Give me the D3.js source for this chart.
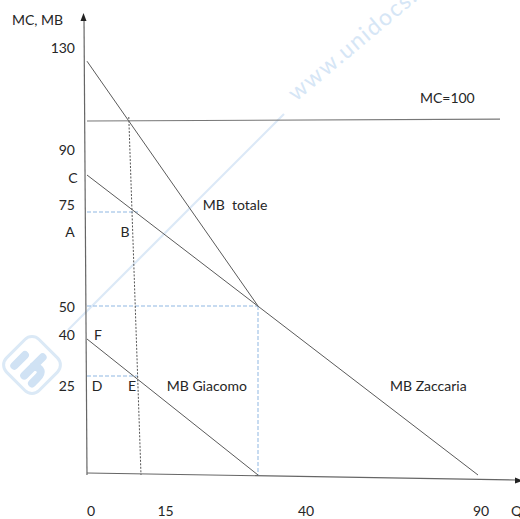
<!DOCTYPE html>
<html>
<head>
<meta charset="utf-8">
<script src="https://cdn.jsdelivr.net/npm/d3@7"></script>
<style>
  html, body { margin: 0; padding: 0; background: #fff; }
  svg { display: block; }
  text { font-family: Lato, "Open Sans", sans-serif; font-size: 14px; fill: #262626; }
</style>
</head>
<body>
<svg id="chart" width="520" height="519"></svg>
<script>
// ---------- data ----------
const qTicks = [0, 15, 40, 90];             // x tick labels (Q)
const vTicks = [130, 90, 75, 50, 40, 25];   // y tick labels (MC, MB)
const mbTotale   = [[0, 126], [40, 50]];
const mbZaccaria = [[0, 90], [90, 0]];
const mbGiacomo  = [[0, 40], [40, 0]];
const mcValue = 100;
const mcSpan = [0, 95];
const optimumQ = 15;     // Q where MB totale = MC
const kinkQ = 40;        // Q where MB Giacomo reaches 0
const kinkV = 50;
const shareZ = 75;       // MB Zaccaria at optimum
const shareG = 25;       // MB Giacomo at optimum
const pointNames = ["A", "B", "C", "D", "E", "F"];
const pointQ = [0, 15, 0, 0, 15, 0];
const pointV = [75, 75, 90, 25, 25, 40];
const curveNames = ["MB  totale", "MB Zaccaria", "MB Giacomo", "MC=100"];
const curveAnchorQ = [28.5, 70, 21, 76.8];
const curveAnchorV = [77.8, 22.5, 22.5, 110];

// ---------- scales (hand-drawn, not to scale) ----------
const x = d3.scaleLinear().domain([0, 15, 40, 90]).range([87, 138, 258, 478]);
const y = d3.scaleLinear().domain([0, 25, 40, 50, 75, 90, 100, 130])
                          .range([475, 376, 339, 306, 212, 175, 121, 52]);
// positions at which the tick labels were written
const xt = d3.scaleLinear().domain([0, 15, 40, 90]).range([91, 165.5, 306, 481]);
const yt = d3.scaleLinear().domain([25, 40, 50, 75, 90, 130]).range([386, 335, 307, 205, 150, 48]);

const svg = d3.select("#chart");
const line = d3.line().x(d => x(d[0])).y(d => y(d[1]));

// ---------- watermark ----------
const wm = svg.append("g");
wm.append("line").attr("x1", 68).attr("y1", 330).attr("x2", 284).attr("y2", 114)
  .attr("stroke", "#dce9f7").attr("stroke-width", 2.2);
wm.append("text").text("www.unidocs.it")
  .attr("transform", "translate(296,102) rotate(-40)")
  .style("font-size", "23px").style("letter-spacing", "1.5px").style("fill", "#d6e6f6");
const logo = wm.append("g").attr("transform", "translate(32,365) rotate(45)");
logo.append("rect").attr("x", -23).attr("y", -23).attr("width", 46).attr("height", 46)
  .attr("rx", 10).attr("fill", "none").attr("stroke", "#dbe9f6").attr("stroke-width", 3);
logo.append("line").attr("x1", -12).attr("y1", -2).attr("x2", -12).attr("y2", 13)
  .attr("stroke", "#d0e2f4").attr("stroke-width", 8).attr("stroke-linecap", "round");
logo.append("path").attr("d", "M2,13 L2,-13 M2,0 Q13,-7 13,6 L13,13")
  .attr("fill", "none").attr("stroke", "#d0e2f4").attr("stroke-width", 8).attr("stroke-linecap", "round");

// ---------- guides ----------
const blue = "#8fb7e2";
function seg(a, b, color, dash, w) {
  svg.append("path").attr("d", line([a, b])).attr("fill", "none")
    .attr("stroke", color).attr("stroke-width", w || 1).attr("stroke-dasharray", dash);
}
seg([0, shareZ], [optimumQ, shareZ], blue, "4,2");
seg([0, shareG], [optimumQ, shareG], blue, "4,2");
seg([0, kinkV], [kinkQ, kinkV], blue, "4,2");
seg([kinkQ, kinkV], [kinkQ, 0], blue, "4,2");
// dotted drop line: from where MB totale meets MC down to Q = optimum on the axis
const p0 = [x(mbTotale[0][0]), y(mbTotale[0][1])], p1 = [x(mbTotale[1][0]), y(mbTotale[1][1])];
const t = (y(mcValue) - p0[1]) / (p1[1] - p0[1]);
const xi = p0[0] + t * (p1[0] - p0[0]);
svg.append("line").attr("x1", xi).attr("y1", y(mcValue) - 4).attr("x2", x(optimumQ) + 3).attr("y2", y(0))
  .attr("stroke", "#555").attr("stroke-width", 1).attr("stroke-dasharray", "2,1.5");

// ---------- axes ----------
const axisColor = "#666";
svg.append("line").attr("x1", x(0) - 3).attr("y1", 18).attr("x2", x(0)).attr("y2", y(0))
  .attr("stroke", axisColor).attr("stroke-width", 1.2);
svg.append("line").attr("x1", x(0)).attr("y1", y(0) - 2).attr("x2", 517).attr("y2", y(0) + 5)
  .attr("stroke", axisColor).attr("stroke-width", 1.2);
svg.append("path").attr("d", `M${x(0) - 3.5},13 L${x(0) - 6.5},21 L${x(0) - 0.5},21 Z`).attr("fill", "#222");
svg.append("path").attr("d", `M523,${y(0) + 5.5} L515,${y(0) + 2.5} L515,${y(0) + 8.5} Z`).attr("fill", "#222");

// ---------- curves ----------
const curveColor = "#5a5a5a";
[mbTotale, mbZaccaria, mbGiacomo].forEach(c => {
  svg.append("path").attr("d", line(c)).attr("fill", "none")
    .attr("stroke", curveColor).attr("stroke-width", 1);
});
svg.append("path").attr("d", line([[mcSpan[0], mcValue], [mcSpan[1], mcValue + 0.8]]))
  .attr("fill", "none").attr("stroke", "#777").attr("stroke-width", 1.2);

// ---------- tick labels ----------
svg.selectAll(".yt").data(vTicks).enter().append("text")
  .attr("x", 75).attr("y", d => yt(d)).attr("dy", "0.35em")
  .attr("text-anchor", "end").text(d => d);
svg.selectAll(".xt").data(qTicks).enter().append("text")
  .attr("x", d => xt(d)).attr("y", 511).attr("dy", "0.35em")
  .attr("text-anchor", "middle").text(d => d);
svg.append("text").attr("x", 511).attr("y", 511).attr("dy", "0.35em").text("Q");
svg.append("text").attr("x", 12).attr("y", 20).attr("dy", "0.35em").text("MC, MB");

// ---------- point letters ----------
const letterOffset = { A: [-17, 20], B: [-13, 20], C: [-14, 3], D: [10, 10], E: [-6, 10], F: [11, -4] };
pointNames.forEach((n, i) => {
  svg.append("text").attr("x", x(pointQ[i]) + letterOffset[n][0])
    .attr("y", y(pointV[i]) + letterOffset[n][1]).attr("dy", "0.35em")
    .attr("text-anchor", "middle").text(n);
});

// ---------- curve names ----------
curveNames.forEach((n, i) => {
  svg.append("text").attr("x", x(curveAnchorQ[i])).attr("y", y(curveAnchorV[i]))
    .attr("dy", "0.35em").style("white-space", "pre").text(n);
});
</script>
</body>
</html>
